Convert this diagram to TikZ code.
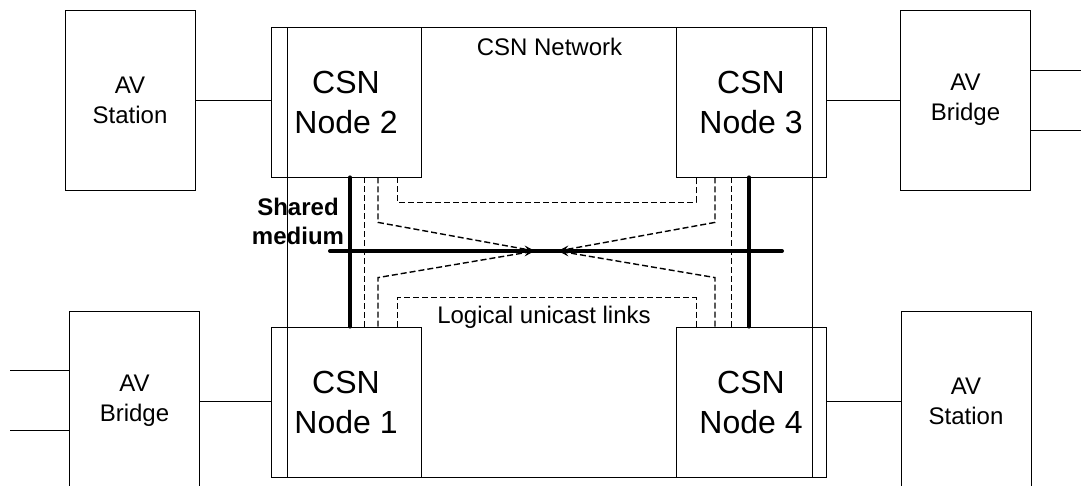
\documentclass[tikz,border=0pt]{standalone}
\usepackage{fontspec}
\setmainfont{Liberation Sans}
\usetikzlibrary{arrows.meta,positioning,calc}

\begin{document}
\begin{tikzpicture}[
  x=1pt, y=-1pt,
  csn/.style={rectangle, draw, line width=0.8pt, minimum width=150pt,
              minimum height=150pt, align=center, inner sep=0pt,
              font=\fontsize{32}{40}\selectfont},
  av/.style={rectangle, draw, line width=0.8pt, minimum width=130pt,
             minimum height=180pt, align=center, inner sep=0pt,
             font=\fontsize{24}{30}\selectfont},
  lbl/.style={font=\fontsize{24}{29}\selectfont, align=center},
  wire/.style={line width=0.8pt},
  medium/.style={line width=4pt, line cap=round},
  link/.style={line width=0.9pt, dash pattern=on 6pt off 3pt},
  xlink/.style={link, line width=1.4pt, -{Stealth[length=11pt,width=7pt]}},
  >=Stealth
]
  \useasboundingbox (0,0) rectangle (1081,486);
  \clip (0,0) rectangle (1081,486);

  %--- CSN NETWORK ---
  \node[draw, line width=0.8pt, minimum width=525pt, minimum height=450pt]
        (net) at (549.5,252) {};
  \node[lbl, below=8pt of net.north] (netlbl) {CSN Network};

  % CSN nodes
  \node[csn] (n2) at (346,102) {CSN\\Node 2};
  \node[csn] (n3) at (751,102) {CSN\\Node 3};
  \node[csn] (n1) at (346,402) {CSN\\Node 1};
  \node[csn] (n4) at (751,402) {CSN\\Node 4};

  %--- AV DEVICES ---
  \node[av] (avs1) at (130,100)   {AV\\Station};
  \node[av] (avb1) at (965.5,100) {AV\\Bridge};
  \node[av] (avb2) at (134.5,401) {AV\\Bridge};
  \node[av] (avs2) at (966,401)   {AV\\Station};

  % Attachments
  \draw[wire] (avs1.east) -- (avs1 -| n2.west);
  \draw[wire] (avb1.west) -- (avb1 -| n3.east);
  \draw[wire] (avb2.east) -- (avb2 -| n1.west);
  \draw[wire] (avs2.west) -- (avs2 -| n4.east);
  % Outer ports
  \coordinate (pe1) at (1081,70);
  \coordinate (pe2) at (1081,130);
  \coordinate (pw1) at (10,370);
  \coordinate (pw2) at (10,430);
  \draw[wire] (avb1.east |- pe1) -- (pe1);
  \draw[wire] (avb1.east |- pe2) -- (pe2);
  \draw[wire] (pw1) -- (pw1 -| avb2.west);
  \draw[wire] (pw2) -- (pw2 -| avb2.west);

  %--- SHARED MEDIUM ---
  \coordinate (busW) at (330,251);
  \coordinate (busE) at (782,251);
  \coordinate (tapL) at (350,251);
  \coordinate (tapR) at (749,251);
  \draw[medium] (busW) -- (busE);
  \draw[medium] (n2.south -| tapL) -- (n1.north -| tapL);
  \draw[medium] (n3.south -| tapR) -- (n4.north -| tapR);
  \node[lbl, font=\fontsize{24}{29}\selectfont\bfseries] (smlbl) at (298,221)
        {Shared\\medium};

  %--- LOGICAL UNICAST LINKS ---
  \coordinate (lkA) at (364,251);
  \coordinate (lkB) at (378,251);
  \coordinate (lkC) at (397,251);
  \coordinate (rkC) at (696,251);
  \coordinate (rkB) at (715,251);
  \coordinate (rkA) at (731,251);
  \coordinate (hubL) at (535,251);
  \coordinate (hubR) at (558,251);
  % Straight down
  \draw[link] (n2.south -| lkA) -- (n1.north -| lkA);
  \draw[link] (n3.south -| rkA) -- (n4.north -| rkA);
  % Across
  \draw[link] (n2.south -| lkC) -- ++(0,25) -| (n3.south -| rkC);
  \draw[link] (n1.north -| lkC) -- ++(0,-29) -| (n4.north -| rkC);
  % Diagonals
  \draw[xlink] (n2.south -| lkB) -- ++(0,45) -- (hubL);
  \draw[xlink] (n1.north -| lkB) -- ++(0,-49) -- (hubL);
  \draw[xlink] (n3.south -| rkB) -- ++(0,45) -- (hubR);
  \draw[xlink] (n4.north -| rkB) -- ++(0,-49) -- (hubR);
  \node[lbl, anchor=base] (lklbl) at (544,323) {Logical unicast links};

\end{tikzpicture}
\end{document}
